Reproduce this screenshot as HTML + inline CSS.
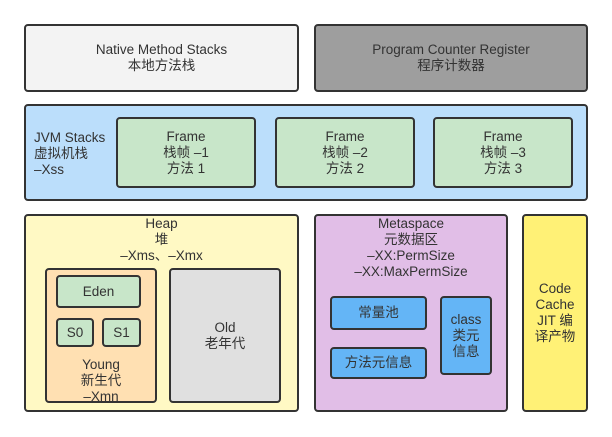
<!DOCTYPE html>
<html><head><meta charset="utf-8"><style>
body{margin:0;width:612px;height:437px;background:#fff;position:relative;overflow:hidden;font-family:"Liberation Sans","Noto Sans CJK SC",sans-serif;font-size:13.5px;color:#333;}
.b{position:absolute;box-sizing:border-box;border:2px solid #333;border-radius:4px;display:flex;flex-direction:column;align-items:center;justify-content:center;text-align:center;line-height:16px;}
.t{position:absolute;text-align:center;line-height:16px;}
</style></head><body>
<div class="b" style="left:24px;top:24px;width:275px;height:68px;background:#f3f3f3">Native Method Stacks<br>本地方法栈</div>
<div class="b" style="left:314px;top:24px;width:274px;height:68px;background:#9e9e9e">Program Counter Register<br>程序计数器</div>

<div class="b" style="left:24px;top:104px;width:564px;height:97px;background:#bbdefb"></div>
<div class="t" style="left:34px;top:130px;text-align:left">JVM Stacks<br>虚拟机栈<br>–Xss</div>
<div class="b" style="left:116px;top:117px;width:140px;height:71px;background:#c8e6c9">Frame<br>栈帧 –1<br>方法 1</div>
<div class="b" style="left:275px;top:117px;width:140px;height:71px;background:#c8e6c9">Frame<br>栈帧 –2<br>方法 2</div>
<div class="b" style="left:433px;top:117px;width:140px;height:71px;background:#c8e6c9">Frame<br>栈帧 –3<br>方法 3</div>

<div class="b" style="left:24px;top:214px;width:275px;height:198px;background:#fff9c4"></div>
<div class="t" style="left:24px;width:275px;top:216px">Heap<br>堆<br>–Xms、–Xmx</div>
<div class="b" style="left:45px;top:268px;width:112px;height:135px;background:#ffe0b2"></div>
<div class="t" style="left:45px;width:112px;top:357px">Young<br>新生代<br>–Xmn</div>
<div class="b" style="left:56px;top:275px;width:85px;height:33px;background:#c8e6c9">Eden</div>
<div class="b" style="left:56px;top:318px;width:38px;height:29px;background:#c8e6c9">S0</div>
<div class="b" style="left:102px;top:318px;width:39px;height:29px;background:#c8e6c9">S1</div>
<div class="b" style="left:169px;top:268px;width:112px;height:135px;background:#e0e0e0">Old<br>老年代</div>

<div class="b" style="left:314px;top:214px;width:194px;height:198px;background:#e1bee7"></div>
<div class="t" style="left:314px;width:194px;top:216px">Metaspace<br>元数据区<br>–XX:PermSize<br>–XX:MaxPermSize</div>
<div class="b" style="left:330px;top:296px;width:97px;height:34px;background:#64b5f6">常量池</div>
<div class="b" style="left:330px;top:347px;width:97px;height:32px;background:#64b5f6">方法元信息</div>
<div class="b" style="left:440px;top:296px;width:52px;height:79px;background:#64b5f6">class<br>类元<br>信息</div>

<div class="b" style="left:522px;top:214px;width:66px;height:198px;background:#fff176">Code<br>Cache<br>JIT 编<br>译产物</div>
</body></html>
